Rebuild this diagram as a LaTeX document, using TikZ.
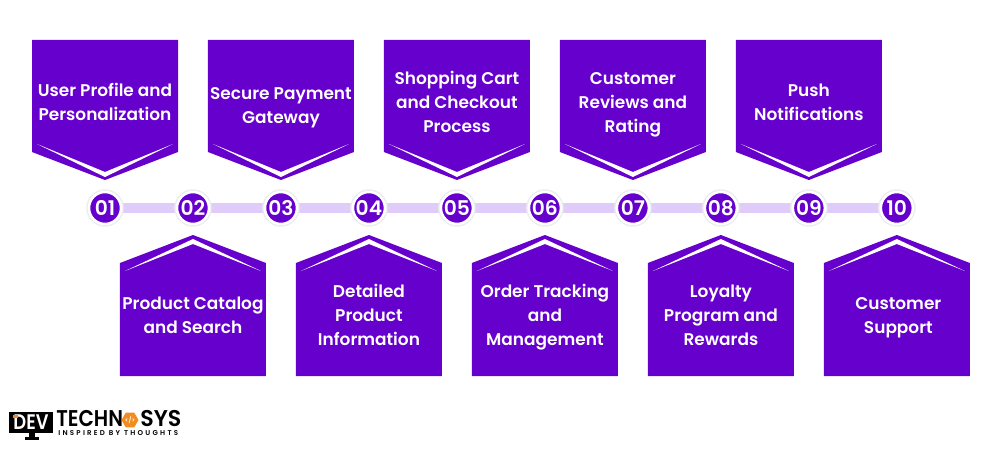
\documentclass[tikz,border=0pt]{standalone}
\usepackage{fontspec}
\setmainfont{Poppins SemiBold}
\newfontfamily\logofont{Poppins SemiBold}
\usetikzlibrary{positioning, backgrounds, calc, shapes.geometric}

\definecolor{panelpurple}{HTML}{6600CC}
\definecolor{barlilac}{HTML}{E0CCFA}
\definecolor{logoorange}{HTML}{F28C1E}

\tikzset{
    x=0.02cm, y=0.02cm,
    numdot/.style={circle, fill=panelpurple, draw=white, line width=0.05cm, minimum size=0.64cm, inner sep=0pt,
        text=white, font=\fontsize{11.5}{14}\selectfont, preaction={draw=black!7, line width=0.11cm}},
    paneltext/.style={text=white, align=center, inner sep=0pt, font=\fontsize{9.65}{13.65}\selectfont},
    bar/.style={barlilac, line width=0.2cm},
    downpanel/.pic={
        \fill[panelpurple] (-73,168) -- (73,168) -- (73,56) -- (0,28) -- (-73,56) -- cycle;
        \fill[white] (-68,64) -- (0,36) -- (68,64) -- (0,31) -- cycle;
    },
    uppanel/.pic={
        \fill[panelpurple] (-73,-168) -- (73,-168) -- (73,-55) -- (0,-27) -- (-73,-55) -- cycle;
        \fill[white] (-68,-63) -- (0,-36) -- (68,-63) -- (0,-31) -- cycle;
    }
}

\begin{document}
\begin{tikzpicture}

  \useasboundingbox (0,0) rectangle (1000,450);

  % Numbered dots on the line
  \node[numdot] (c1) at (105,242) {01};
  \node[numdot, right=1.76cm of c1.center, anchor=center] (c2) {02};
  \node[numdot, right=1.76cm of c2.center, anchor=center] (c3) {03};
  \node[numdot, right=1.76cm of c3.center, anchor=center] (c4) {04};
  \node[numdot, right=1.76cm of c4.center, anchor=center] (c5) {05};
  \node[numdot, right=1.76cm of c5.center, anchor=center] (c6) {06};
  \node[numdot, right=1.76cm of c6.center, anchor=center] (c7) {07};
  \node[numdot, right=1.76cm of c7.center, anchor=center] (c8) {08};
  \node[numdot, right=1.76cm of c8.center, anchor=center] (c9) {09};
  \node[numdot, right=1.76cm of c9.center, anchor=center] (c10) {10};

  % Line behind the dots
  \begin{scope}[on background layer]
    \draw[bar] (c1) -- (c2);
    \draw[bar] (c2) -- (c3);
    \draw[bar] (c3) -- (c4);
    \draw[bar] (c4) -- (c5);
    \draw[bar] (c5) -- (c6);
    \draw[bar] (c6) -- (c7);
    \draw[bar] (c7) -- (c8);
    \draw[bar] (c8) -- (c9);
    \draw[bar] (c9) -- (c10);
  \end{scope}

  % Panels above and below
  \pic at (c1) {downpanel};
  \pic at (c2) {uppanel};
  \pic at (c3) {downpanel};
  \pic at (c4) {uppanel};
  \pic at (c5) {downpanel};
  \pic at (c6) {uppanel};
  \pic at (c7) {downpanel};
  \pic at (c8) {uppanel};
  \pic at (c9) {downpanel};
  \pic at (c10) {uppanel};

  % Panel texts
  \node[paneltext, below=2.14cm of c2.center, anchor=center] (catalog) {Product Catalog\\and Search};
  \node[paneltext, above=2.12cm of c1.center, anchor=center] (profile) {User Profile and\\Personalization};
  \node[paneltext, above=2.0cm of c3.center, anchor=center] (payment) {Secure Payment\\Gateway};
  \node[paneltext, below=2.14cm of c4.center, anchor=center] (details) {Detailed\\Product\\Information};
  \node[paneltext, above=2.12cm of c5.center, anchor=center] (cart) {Shopping Cart\\and Checkout\\Process};
  \node[paneltext, below=2.18cm of c6.center, anchor=center] (tracking) {Order Tracking\\and\\Management};
  \node[paneltext, above=2.06cm of c7.center, anchor=center] (reviews) {Customer\\Reviews and\\Rating};
  \node[paneltext, below=2.14cm of c8.center, anchor=center] (loyalty) {Loyalty\\Program and\\Rewards};
  \node[paneltext, above=2.12cm of c9.center, anchor=center] (push) {Push\\Notifications};
  \node[paneltext, below=2.2cm of c10.center, anchor=center, xshift=0.03cm] (support) {Customer\\Support};

  % Logo
  \node[fill=black, text=white, minimum width=0.88cm, minimum height=0.42cm, inner sep=0pt,
        font=\logofont\fontsize{12}{12}\selectfont] (devbox) at (31,27.5) {\scalebox{0.85}[1]{DEV}};
  \fill[logoorange] (13,32) rectangle (18,35);
  \fill[black] (29,17) rectangle (35,13);
  \fill[black] (25,13) rectangle (39,10);
  \node[text=black, inner sep=0pt, font=\logofont\fontsize{12}{12}\selectfont, anchor=base west] (techn) at (56,23.5) {\scalebox{0.95}[1.08]{TECHN}};
  \node[regular polygon, regular polygon sides=6, fill=logoorange, minimum size=0.34cm, inner sep=0pt,
        text=white, font=\logofont\fontsize{3.5}{4}\selectfont] (hexa) at (130,30) {</>};
  \node[text=black, inner sep=0pt, font=\logofont\fontsize{12}{12}\selectfont, anchor=base west] (sys) at (140,23.5) {\scalebox{1.05}[1.08]{SYS}};
  \node[text=black, inner sep=0pt, font=\logofont\addfontfeature{LetterSpace=32}\fontsize{4}{4}\selectfont, anchor=base west] (slogan) at (58,15)
        {INSPIRED BY THOUGHTS};

\end{tikzpicture}
\end{document}
